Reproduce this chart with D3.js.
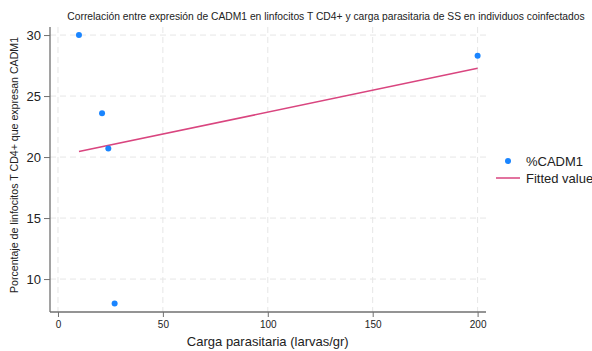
<!DOCTYPE html>
<html>
<head>
<meta charset="utf-8">
<script src="https://cdn.jsdelivr.net/npm/d3@7"></script>
<style>
  body { margin: 0; background: #fff; }
  text { font-family: "Liberation Sans", Arial, sans-serif; fill: #222; }
</style>
</head>
<body>
<div id="chart"></div>
<script>
// data
const cargaParasitaria = [10, 21, 24, 27, 200];
const pctCADM1 = [30, 23.6, 20.7, 8, 28.3];
const fittedX = [10, 200];
const fittedY = [20.45, 27.27];
const xTicks = [0, 50, 100, 150, 200];
const yTicks = [10, 15, 20, 25, 30];
const seriesNames = ['%CADM1', 'Fitted values'];

const width = 592;
const height = 351;
const plot = { left: 50, right: 486, top: 27, bottom: 312 };

const POINT_COLOR = '#1a85ff';
const LINE_COLOR = '#d9457f';
const AXIS_COLOR = '#707070';
const GRID_COLOR = '#e6e6e6';

const svg = d3.select('#chart')
  .append('svg')
  .attr('width', width)
  .attr('height', height);

const x = d3.scaleLinear()
  .domain([-3.8, 204])
  .range([plot.left, plot.right]);

const y = d3.scaleLinear()
  .domain([7.3, 30.66])
  .range([plot.bottom, plot.top]);

// dashed grid
svg.append('g')
  .selectAll('line')
  .data(xTicks)
  .enter().append('line')
    .attr('x1', d => x(d)).attr('x2', d => x(d))
    .attr('y1', plot.top).attr('y2', plot.bottom)
    .attr('stroke', GRID_COLOR)
    .attr('stroke-dasharray', '6,4');

svg.append('g')
  .selectAll('line')
  .data(yTicks)
  .enter().append('line')
    .attr('x1', plot.left).attr('x2', plot.right)
    .attr('y1', d => y(d)).attr('y2', d => y(d))
    .attr('stroke', GRID_COLOR)
    .attr('stroke-dasharray', '6,4');

// axes
const xAxis = d3.axisBottom(x)
  .tickValues(xTicks)
  .tickSizeOuter(0)
  .tickSizeInner(5)
  .tickPadding(4);

const yAxis = d3.axisLeft(y)
  .tickValues(yTicks)
  .tickSizeOuter(0)
  .tickSizeInner(6)
  .tickPadding(3);

const gx = svg.append('g')
  .attr('transform', `translate(0,${plot.bottom})`)
  .call(xAxis);
gx.select('.domain').attr('d', `M${plot.left},0H${plot.right}`);

const gy = svg.append('g')
  .attr('transform', `translate(${plot.left},0)`)
  .call(yAxis);
gy.select('.domain').attr('d', `M0,${plot.top}V${plot.bottom}`);

[gx, gy].forEach(g => {
  g.select('.domain').attr('stroke', AXIS_COLOR).attr('stroke-width', 1.3);
  g.selectAll('.tick line').attr('stroke', AXIS_COLOR);
  g.selectAll('.tick text')
    .attr('fill', '#222')
    .style('font-family', '"Liberation Sans", Arial, sans-serif');
});
gx.selectAll('.tick text').style('font-size', '10px');
gy.selectAll('.tick text').style('font-size', '13px').attr('dy', '0.35em');

// fitted line
svg.append('path')
  .datum(d3.zip(fittedX, fittedY))
  .attr('fill', 'none')
  .attr('stroke', LINE_COLOR)
  .attr('stroke-width', 1.5)
  .attr('d', d3.line().x(d => x(d[0])).y(d => y(d[1])));

// scatter points
svg.append('g')
  .selectAll('circle')
  .data(d3.zip(cargaParasitaria, pctCADM1))
  .enter().append('circle')
    .attr('cx', d => x(d[0]))
    .attr('cy', d => y(d[1]))
    .attr('r', 3)
    .attr('fill', POINT_COLOR);

// titles
svg.append('text')
  .attr('x', 326)
  .attr('y', 20)
  .attr('text-anchor', 'middle')
  .style('font-size', '10.3px')
  .text('Correlación entre expresión de CADM1 en linfocitos T CD4+ y carga parasitaria de SS en individuos coinfectados');

svg.append('text')
  .attr('text-anchor', 'middle')
  .attr('transform', 'translate(18,165) rotate(-90)')
  .style('font-size', '10.6px')
  .text('Porcentaje de linfocitos T CD4+ que expresan CADM1');

svg.append('text')
  .attr('x', (x(0) + x(200)) / 2)
  .attr('y', 346)
  .attr('text-anchor', 'middle')
  .style('font-size', '13px')
  .text('Carga parasitaria (larvas/gr)');

// legend
const legend = svg.append('g')
  .attr('transform', 'translate(496,161)');

legend.append('circle')
  .attr('cx', 12).attr('cy', 0).attr('r', 3)
  .attr('fill', POINT_COLOR);

legend.append('line')
  .attr('x1', 0).attr('x2', 24)
  .attr('y1', 17).attr('y2', 17)
  .attr('stroke', LINE_COLOR)
  .attr('stroke-width', 1.5);

legend.selectAll('text.lbl')
  .data(seriesNames)
  .enter().append('text')
    .attr('class', 'lbl')
    .attr('x', 30)
    .attr('y', (d, i) => i * 17)
    .attr('dy', '0.35em')
    .style('font-size', '13px')
    .text(d => d);
</script>
</body>
</html>
